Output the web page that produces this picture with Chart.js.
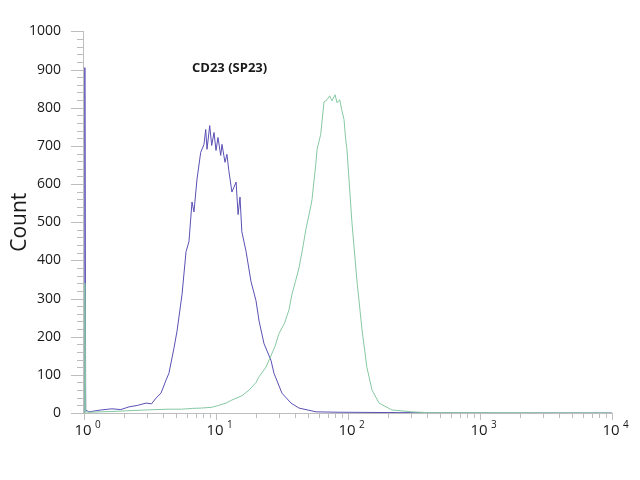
<!DOCTYPE html>
<html>
<head>
<meta charset="utf-8">
<script src="https://cdn.jsdelivr.net/npm/chart.js@4.4.1/dist/chart.umd.min.js"></script>
<style>
  html, body { margin: 0; padding: 0; background: #fff; }
  #wrap { width: 640px; height: 480px; }
</style>
</head>
<body>
<div id="wrap"><canvas id="histChart" width="640" height="480"></canvas></div>
<script>
/* CD23 (SP23) flow histogram — isotype (blue) vs stained (green) */

const chartTitle = 'CD23 (SP23)';
const yTitle = 'Count';
const decades = [0, 1, 2, 3, 4];

// Blue histogram (control), intensity / count
const blueX = [1, 1.015, 1.03, 1.09, 1.35, 1.63, 1.9, 2.19, 2.55, 2.95, 3.25, 3.51, 3.83, 4.18, 4.40, 4.81, 5.07, 5.53, 5.93,
  6.24, 6.58, 6.81, 7.18, 7.66, 8.11, 8.36, 8.55, 8.96, 9.28, 9.66, 10.0, 10.35, 10.86, 11.1, 11.7,
  12.1, 12.5, 13.2, 14.2, 14.7, 15.2, 15.7, 16.9, 18.4, 20.1, 21.2, 23.1, 26.1, 27.5, 31.6, 37.0,
  42.5, 57.2, 85.5, 243, 1393, 10000];
const blueY = [0, 905, 8, 3, 8, 11, 9, 16, 20, 26, 24, 39, 52, 86, 104, 171, 215, 311, 423,
  449, 553, 527, 613, 683, 704, 743, 691, 753, 701, 735, 688, 722, 675, 704, 657,
  678, 636, 579, 605, 520, 566, 475, 423, 345, 294, 241, 182, 138, 104, 52, 26,
  13, 3, 2, 1, 0, 0];

// Green histogram (CD23 stained)
const greenX = [1, 1.015, 1.03, 1.09, 1.63, 2.19, 2.95, 3.51, 4.40, 5.5, 6.6, 7.8, 9.3, 10.5, 11.9,
  13.2, 15.7, 17.8, 20.1, 21.2, 23.9, 26.1, 28.0, 30.0, 33.0, 35.7, 37.6, 40.0, 42.5, 45.0, 48.1,
  52.5, 53.4, 57.2, 58.3, 62.1, 65.8, 69.3, 72.7, 75.6, 79.8, 82.6, 86.5, 89.6, 93.3, 96.0,
  98.2, 107, 117, 128, 139, 152, 172, 215, 305, 400, 10000];
const greenY = [0, 340, 3, 2, 4, 6, 8, 9, 10, 10, 12, 13, 15, 20, 26,
  34, 45, 60, 80, 95, 120, 150, 175, 208, 235, 270, 311, 345, 380, 425, 483,
  545, 560, 657, 691, 730, 815, 821, 831, 818, 834, 813, 821, 795, 769, 717,
  691, 501, 345, 215, 120, 60, 26, 8, 3, 1, 0];

const toPoints = (xs, ys) => xs.map((x, i) => ({ x: x, y: ys[i] }));

const axisColor = '#bdbdbd';
const textColor = '#1a1a1a';

// axis lines, minor ticks, 10^n labels and the inset title
const flowAxes = {
    id: 'flowAxes',
    afterDraw(chart) {
        const { ctx, chartArea: a, scales } = chart;
        const x = scales.x, y = scales.y;
        const left = Math.round(a.left), bottom = Math.round(a.bottom);
        ctx.save();
        ctx.fillStyle = axisColor;
        ctx.fillRect(left - 1, Math.round(a.top), 1, bottom - Math.round(a.top) + 1);
        ctx.fillRect(left - 1, bottom, Math.round(a.right) - left + 2, 1);
        // y ticks: major every 100, minor every 20
        for (let v = 0; v <= 1000; v += 20) {
            const py = Math.round(y.getPixelForValue(v));
            const len = v % 100 === 0 ? 12 : 6;
            ctx.fillRect(left - 1 - len, py, len, 1);
        }
        // x ticks: 1..9 per decade
        for (let k = 0; k < 4; k++) {
            for (let m = 1; m <= 9; m++) {
                const px = Math.round(x.getPixelForValue(m * Math.pow(10, k)));
                ctx.fillRect(px, bottom, 1, m === 1 ? 7 : 5);
            }
        }
        ctx.fillRect(Math.round(x.getPixelForValue(10000)), bottom, 1, 7);

        ctx.fillStyle = textColor;
        ctx.textBaseline = 'middle';
        decades.forEach(k => {
            const px = x.getPixelForValue(Math.pow(10, k));
            ctx.font = '15px "Open Sans"';
            ctx.textAlign = 'center';
            ctx.fillText('10', px - 1, a.bottom + 18);
            ctx.font = '10px "Open Sans"';
            ctx.textAlign = 'left';
            ctx.fillText(String(k), px + 11, a.bottom + 12);
        });
        ctx.font = 'bold 13px "Open Sans"';
        ctx.textAlign = 'left';
        ctx.fillText(chartTitle, 192, 68);
        ctx.restore();
    }
};

const chart = new Chart(document.getElementById('histChart').getContext('2d'), {
    type: 'line',
    data: {
        datasets: [
            { label: 'CD23', data: toPoints(greenX, greenY), borderColor: '#86c8a2', borderWidth: 1, pointRadius: 0, tension: 0, fill: false },
            { label: 'Isotype', data: toPoints(blueX, blueY), borderColor: '#5a50b4', borderWidth: 1, pointRadius: 0, tension: 0, fill: false }
        ]
    },
    options: {
        responsive: false,
        animation: false,
        layout: { padding: { left: 0, right: 28, top: 28, bottom: 67 } },
        plugins: { legend: { display: false }, tooltip: { enabled: false } },
        scales: {
            x: {
                type: 'logarithmic', min: 1, max: 10000,
                ticks: { display: false },
                grid: { display: false, drawTicks: false, tickLength: 0 },
                border: { display: false },
                afterFit: s => { s.height = 0; }
            },
            y: {
                min: 0, max: 1000,
                ticks: { stepSize: 100, padding: 23, color: textColor, font: { family: 'Open Sans', size: 14 },
                         callback: v => String(v) },
                grid: { display: false, drawTicks: false, tickLength: 0 },
                border: { display: false },
                title: { display: true, text: yTitle, color: textColor, padding: { top: 7, bottom: 0 }, font: { family: 'Open Sans', size: 21 } },
                afterFit: s => { s.width = 84; }
            }
        }
    },
    plugins: [flowAxes]
});
</script>
</body>
</html>
